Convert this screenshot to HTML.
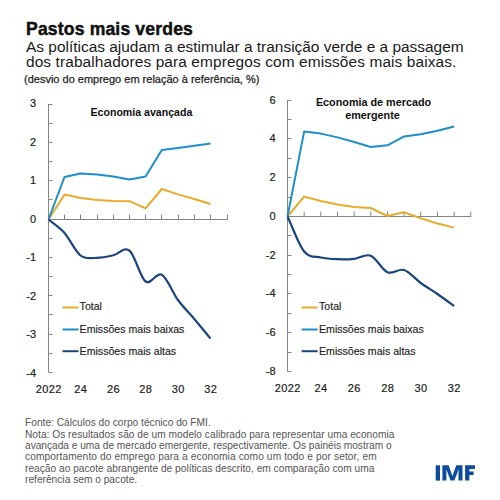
<!DOCTYPE html>
<html><head><meta charset="utf-8"><style>
html,body{margin:0;padding:0;background:#fff;width:500px;height:500px;overflow:hidden}
svg{display:block}
text{font-family:"Liberation Sans",sans-serif}
.yl{font-size:11px;fill:#222;stroke:#222;stroke-width:0.2px}
.xl{font-size:11px;fill:#222;letter-spacing:0.4px;stroke:#222;stroke-width:0.2px}
.lg{font-size:10.6px;fill:#222;stroke:#222;stroke-width:0.15px}
.fn{font-size:10.2px;fill:#555}
</style></head><body>
<svg width="500" height="500" viewBox="0 0 500 500">
<rect width="500" height="500" fill="#fff"/>

<text x="26" y="34.6" font-size="17.6" font-weight="bold" fill="#111" stroke="#111" stroke-width="0.45" letter-spacing="0.15">Pastos mais verdes</text>
<text x="26" y="52" font-size="15.45" fill="#1a1a1a">As políticas ajudam a estimular a transição verde e a passagem</text>
<text x="26" y="67.1" font-size="15.45" letter-spacing="0.1" fill="#1a1a1a">dos trabalhadores para empregos com emissões mais baixas.</text>
<text x="24" y="82.6" font-size="11" fill="#222" stroke="#222" stroke-width="0.25">(desvio do emprego em relação à referência, %)</text>
<line x1="48.5" y1="104.0" x2="48.5" y2="372.4" stroke="#858585" stroke-width="1"/>
<line x1="48.5" y1="104.50" x2="52.5" y2="104.50" stroke="#858585" stroke-width="1"/>
<line x1="48.5" y1="123.50" x2="52.5" y2="123.50" stroke="#858585" stroke-width="1"/>
<line x1="48.5" y1="142.50" x2="52.5" y2="142.50" stroke="#858585" stroke-width="1"/>
<line x1="48.5" y1="161.50" x2="52.5" y2="161.50" stroke="#858585" stroke-width="1"/>
<line x1="48.5" y1="180.50" x2="52.5" y2="180.50" stroke="#858585" stroke-width="1"/>
<line x1="48.5" y1="199.50" x2="52.5" y2="199.50" stroke="#858585" stroke-width="1"/>
<line x1="48.5" y1="219.50" x2="52.5" y2="219.50" stroke="#858585" stroke-width="1"/>
<line x1="48.5" y1="238.50" x2="52.5" y2="238.50" stroke="#858585" stroke-width="1"/>
<line x1="48.5" y1="257.50" x2="52.5" y2="257.50" stroke="#858585" stroke-width="1"/>
<line x1="48.5" y1="276.50" x2="52.5" y2="276.50" stroke="#858585" stroke-width="1"/>
<line x1="48.5" y1="295.50" x2="52.5" y2="295.50" stroke="#858585" stroke-width="1"/>
<line x1="48.5" y1="314.50" x2="52.5" y2="314.50" stroke="#858585" stroke-width="1"/>
<line x1="48.5" y1="334.50" x2="52.5" y2="334.50" stroke="#858585" stroke-width="1"/>
<line x1="48.5" y1="353.50" x2="52.5" y2="353.50" stroke="#858585" stroke-width="1"/>
<line x1="48.5" y1="372.50" x2="52.5" y2="372.50" stroke="#858585" stroke-width="1"/>
<line x1="48.5" y1="219.5" x2="228" y2="219.5" stroke="#858585" stroke-width="1"/>
<line x1="64.50" y1="214.5" x2="64.50" y2="219.5" stroke="#858585" stroke-width="1"/>
<line x1="80.50" y1="214.5" x2="80.50" y2="219.5" stroke="#858585" stroke-width="1"/>
<line x1="97.50" y1="214.5" x2="97.50" y2="219.5" stroke="#858585" stroke-width="1"/>
<line x1="113.50" y1="214.5" x2="113.50" y2="219.5" stroke="#858585" stroke-width="1"/>
<line x1="129.50" y1="214.5" x2="129.50" y2="219.5" stroke="#858585" stroke-width="1"/>
<line x1="145.50" y1="214.5" x2="145.50" y2="219.5" stroke="#858585" stroke-width="1"/>
<line x1="161.50" y1="214.5" x2="161.50" y2="219.5" stroke="#858585" stroke-width="1"/>
<line x1="178.50" y1="214.5" x2="178.50" y2="219.5" stroke="#858585" stroke-width="1"/>
<line x1="194.50" y1="214.5" x2="194.50" y2="219.5" stroke="#858585" stroke-width="1"/>
<line x1="210.50" y1="214.5" x2="210.50" y2="219.5" stroke="#858585" stroke-width="1"/>
<line x1="227.50" y1="214.5" x2="227.50" y2="219.5" stroke="#858585" stroke-width="1"/>
<text x="36" y="107.20" text-anchor="end" class="yl">3</text>
<text x="36" y="145.73" text-anchor="end" class="yl">2</text>
<text x="36" y="184.26" text-anchor="end" class="yl">1</text>
<text x="36" y="222.79" text-anchor="end" class="yl">0</text>
<text x="36" y="261.32" text-anchor="end" class="yl">-1</text>
<text x="36" y="299.85" text-anchor="end" class="yl">-2</text>
<text x="36" y="338.38" text-anchor="end" class="yl">-3</text>
<text x="36" y="376.91" text-anchor="end" class="yl">-4</text>
<text x="48.70" y="393.3" text-anchor="middle" class="xl">2022</text>
<text x="80.70" y="393.3" text-anchor="middle" class="xl">24</text>
<text x="113.50" y="393.3" text-anchor="middle" class="xl">26</text>
<text x="145.80" y="393.3" text-anchor="middle" class="xl">28</text>
<text x="178.20" y="393.3" text-anchor="middle" class="xl">30</text>
<text x="210.70" y="393.3" text-anchor="middle" class="xl">32</text>
<line x1="287.5" y1="100.2" x2="287.5" y2="371.4" stroke="#858585" stroke-width="1"/>
<line x1="287.5" y1="100.50" x2="291.5" y2="100.50" stroke="#858585" stroke-width="1"/>
<line x1="287.5" y1="119.50" x2="291.5" y2="119.50" stroke="#858585" stroke-width="1"/>
<line x1="287.5" y1="138.50" x2="291.5" y2="138.50" stroke="#858585" stroke-width="1"/>
<line x1="287.5" y1="158.50" x2="291.5" y2="158.50" stroke="#858585" stroke-width="1"/>
<line x1="287.5" y1="177.50" x2="291.5" y2="177.50" stroke="#858585" stroke-width="1"/>
<line x1="287.5" y1="197.50" x2="291.5" y2="197.50" stroke="#858585" stroke-width="1"/>
<line x1="287.5" y1="216.50" x2="291.5" y2="216.50" stroke="#858585" stroke-width="1"/>
<line x1="287.5" y1="235.50" x2="291.5" y2="235.50" stroke="#858585" stroke-width="1"/>
<line x1="287.5" y1="255.50" x2="291.5" y2="255.50" stroke="#858585" stroke-width="1"/>
<line x1="287.5" y1="274.50" x2="291.5" y2="274.50" stroke="#858585" stroke-width="1"/>
<line x1="287.5" y1="293.50" x2="291.5" y2="293.50" stroke="#858585" stroke-width="1"/>
<line x1="287.5" y1="313.50" x2="291.5" y2="313.50" stroke="#858585" stroke-width="1"/>
<line x1="287.5" y1="332.50" x2="291.5" y2="332.50" stroke="#858585" stroke-width="1"/>
<line x1="287.5" y1="352.50" x2="291.5" y2="352.50" stroke="#858585" stroke-width="1"/>
<line x1="287.5" y1="371.50" x2="291.5" y2="371.50" stroke="#858585" stroke-width="1"/>
<line x1="287.5" y1="216.5" x2="471.26" y2="216.5" stroke="#858585" stroke-width="1"/>
<line x1="304.16" y1="211.5" x2="304.16" y2="216.5" stroke="#858585" stroke-width="1"/>
<line x1="320.82" y1="211.5" x2="320.82" y2="216.5" stroke="#858585" stroke-width="1"/>
<line x1="337.48" y1="211.5" x2="337.48" y2="216.5" stroke="#858585" stroke-width="1"/>
<line x1="354.14" y1="211.5" x2="354.14" y2="216.5" stroke="#858585" stroke-width="1"/>
<line x1="370.80" y1="211.5" x2="370.80" y2="216.5" stroke="#858585" stroke-width="1"/>
<line x1="387.46" y1="211.5" x2="387.46" y2="216.5" stroke="#858585" stroke-width="1"/>
<line x1="404.12" y1="211.5" x2="404.12" y2="216.5" stroke="#858585" stroke-width="1"/>
<line x1="420.78" y1="211.5" x2="420.78" y2="216.5" stroke="#858585" stroke-width="1"/>
<line x1="437.44" y1="211.5" x2="437.44" y2="216.5" stroke="#858585" stroke-width="1"/>
<line x1="454.10" y1="211.5" x2="454.10" y2="216.5" stroke="#858585" stroke-width="1"/>
<line x1="470.76" y1="211.5" x2="470.76" y2="216.5" stroke="#858585" stroke-width="1"/>
<text x="275.5" y="103.60" text-anchor="end" class="yl">6</text>
<text x="275.5" y="142.33" text-anchor="end" class="yl">4</text>
<text x="275.5" y="181.06" text-anchor="end" class="yl">2</text>
<text x="275.5" y="219.79" text-anchor="end" class="yl">0</text>
<text x="275.5" y="258.52" text-anchor="end" class="yl">-2</text>
<text x="275.5" y="297.25" text-anchor="end" class="yl">-4</text>
<text x="275.5" y="335.98" text-anchor="end" class="yl">-6</text>
<text x="275.5" y="374.71" text-anchor="end" class="yl">-8</text>
<text x="287.70" y="391.6" text-anchor="middle" class="xl">2022</text>
<text x="321.02" y="391.6" text-anchor="middle" class="xl">24</text>
<text x="354.34" y="391.6" text-anchor="middle" class="xl">26</text>
<text x="387.66" y="391.6" text-anchor="middle" class="xl">28</text>
<text x="420.98" y="391.6" text-anchor="middle" class="xl">30</text>
<text x="454.30" y="391.6" text-anchor="middle" class="xl">32</text>
<text x="90.5" y="116" font-size="10.6" font-weight="bold" fill="#111">Economia avançada</text>
<text x="373.5" y="106" font-size="10.8" font-weight="bold" fill="#111" text-anchor="middle">Economia de mercado</text>
<text x="372.5" y="118.5" font-size="10.8" font-weight="bold" fill="#111" text-anchor="middle">emergente</text>
<path d="M48.50,219.50 L64.50,194.60 L80.50,198.00 L97.00,200.00 L113.30,201.00 L129.50,201.20 L145.60,208.40 L161.80,189.00 L178.00,194.40 L194.30,199.00 L210.50,204.00" fill="none" stroke="#e8ab2c" stroke-width="2" stroke-linejoin="round"/>
<path d="M48.50,219.50 L64.50,177.00 L80.50,173.40 L97.00,174.40 L113.30,176.60 L129.50,179.40 L145.60,176.40 L161.80,150.00 L178.00,148.00 L194.30,145.80 L210.50,143.40" fill="none" stroke="#1c8fcc" stroke-width="2" stroke-linejoin="round"/>
<path d="M48.50,219.50 C53.83,224.00 59.17,227.00 64.50,233.00 C69.83,239.00 75.08,251.37 80.50,255.50 C85.92,259.63 91.53,257.83 97.00,257.80 C102.47,257.77 107.88,256.50 113.30,255.30 C118.72,254.10 124.12,246.23 129.50,250.60 C134.88,254.97 140.22,277.47 145.60,281.50 C150.98,285.53 156.40,271.72 161.80,274.80 C167.20,277.88 172.58,292.63 178.00,300.00 C183.42,307.37 188.88,312.58 194.30,319.00 C199.72,325.42 207.80,335.25 210.50,338.50" fill="none" stroke="#1a4582" stroke-width="2.2"/>
<path d="M287.50,216.50 L304.16,196.60 L320.82,201.00 L337.48,204.60 L354.14,207.00 L370.80,208.00 L387.46,216.00 L404.12,212.30 L420.78,218.40 L437.44,223.50 L454.10,227.60" fill="none" stroke="#e8ab2c" stroke-width="2" stroke-linejoin="round"/>
<path d="M287.50,216.50 L304.16,131.60 L320.82,133.60 L337.48,137.40 L354.14,142.00 L370.80,147.00 L387.46,145.30 L404.12,136.40 L420.78,134.20 L437.44,130.80 L454.10,126.50" fill="none" stroke="#1c8fcc" stroke-width="2" stroke-linejoin="round"/>
<path d="M287.50,216.50 C293.05,228.17 298.61,244.67 304.16,251.50 C309.71,258.33 315.27,256.22 320.82,257.50 C326.37,258.78 331.93,258.98 337.48,259.20 C343.03,259.42 348.59,259.38 354.14,258.80 C359.69,258.22 365.25,253.47 370.80,255.70 C376.35,257.93 381.91,269.82 387.46,272.20 C393.01,274.58 398.57,268.20 404.12,270.00 C409.67,271.80 415.23,279.00 420.78,283.00 C426.33,287.00 431.89,290.17 437.44,294.00 C442.99,297.83 451.32,304.00 454.10,306.00" fill="none" stroke="#1a4582" stroke-width="2.2"/>
<line x1="62.5" y1="307.5" x2="78.5" y2="307.5" stroke="#e8ab2c" stroke-width="2"/>
<text x="79.6" y="310.4" class="lg">Total</text>
<line x1="62.5" y1="329.5" x2="78.5" y2="329.5" stroke="#1c8fcc" stroke-width="2"/>
<text x="79.6" y="332.5" class="lg">Emissões mais baixas</text>
<line x1="62.5" y1="351.2" x2="78.5" y2="351.2" stroke="#1a4582" stroke-width="2"/>
<text x="79.6" y="354.5" class="lg">Emissões mais altas</text>
<line x1="301.6" y1="307.5" x2="317.6" y2="307.5" stroke="#e8ab2c" stroke-width="2"/>
<text x="319" y="310.4" class="lg">Total</text>
<line x1="301.6" y1="329.5" x2="317.6" y2="329.5" stroke="#1c8fcc" stroke-width="2"/>
<text x="319" y="332.5" class="lg">Emissões mais baixas</text>
<line x1="301.6" y1="351.2" x2="317.6" y2="351.2" stroke="#1a4582" stroke-width="2"/>
<text x="319" y="354.5" class="lg">Emissões mais altas</text>
<text x="25" y="426.20" class="fn" letter-spacing="0">Fonte: Cálculos do corpo técnico do FMI.</text>
<text x="25" y="437.60" class="fn" letter-spacing="0.01">Nota: Os resultados são de um modelo calibrado para representar uma economia</text>
<text x="25" y="449.00" class="fn" letter-spacing="-0.027">avançada e uma de mercado emergente, respectivamente. Os painéis mostram o</text>
<text x="25" y="460.40" class="fn" letter-spacing="0.1">comportamento do emprego para a economia como um todo e por setor, em</text>
<text x="25" y="471.80" class="fn" letter-spacing="0">reação ao pacote abrangente de políticas descrito, em comparação com uma</text>
<text x="25" y="483.20" class="fn" letter-spacing="0">referência sem o pacote.</text>
<g fill="#0d4b9f"><rect x="435.7" y="465.3" width="4.3" height="15.3"/><polygon points="442.4,480.6 442.4,465.3 448.6,465.3 452.45,476 456.3,465.3 462.5,465.3 462.5,480.6 458.5,480.6 458.5,469.5 454.4,480.6 450.5,480.6 446.4,469.5 446.4,480.6"/><polygon points="465.1,480.6 465.1,465.3 475,465.3 475,469.0 469.4,469.0 469.4,471.4 473.6,471.4 473.6,474.9 469.4,474.9 469.4,480.6"/></g>
</svg></body></html>
